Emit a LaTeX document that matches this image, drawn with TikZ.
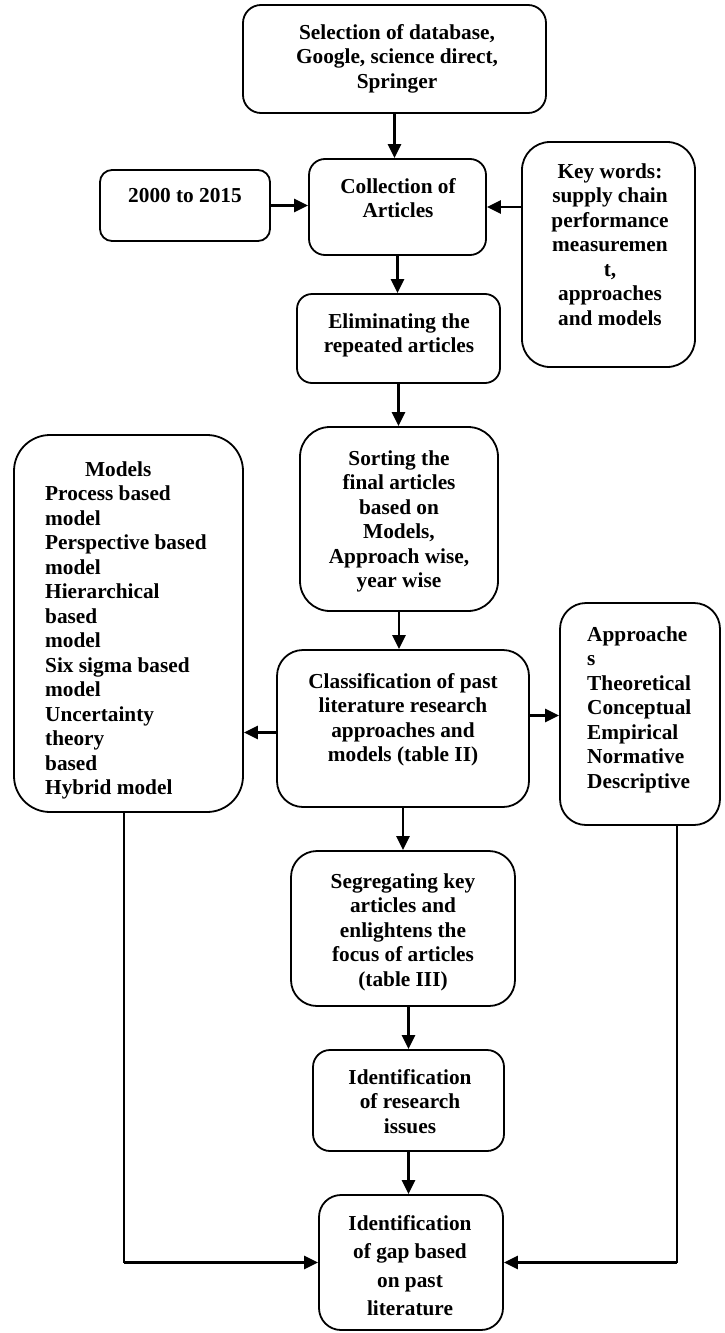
\documentclass[tikz,border=0pt]{standalone}
\usepackage{fontspec}
\setmainfont{Liberation Serif}
\usetikzlibrary{arrows.meta}
\begin{document}
\begin{tikzpicture}[x=1pt,y=-1pt,
  box/.style={draw, line width=1.8pt, inner sep=0pt},
  txt/.style={inner sep=0pt, align=center, anchor=north, font=\bfseries\fontsize{21.3}{24.5}\selectfont},
  ltxt/.style={txt, align=left, anchor=north west},
  arr/.style={line width=2.5pt, -{Triangle[length=14pt,width=13pt]}},
  link/.style={line width=2pt}]
\useasboundingbox (0,0) rectangle (724,1333);

% boxes
\node[box, minimum width=303pt, minimum height=108pt, rounded corners=18pt] (sel) at (394.5,59) {};
\node[box, minimum width=170pt, minimum height=71pt, rounded corners=12pt] (yr) at (185,205.5) {};
\node[box, minimum width=177pt, minimum height=96pt, rounded corners=16pt] (coll) at (397.5,207) {};
\node[box, minimum width=173pt, minimum height=225pt, rounded corners=28pt] (kw) at (608.5,254.5) {};
\node[box, minimum width=203pt, minimum height=89pt, rounded corners=15pt] (elim) at (398.5,338.5) {};
\node[box, minimum width=198pt, minimum height=184pt, rounded corners=30pt] (sort) at (399,519) {};
\node[box, minimum width=229pt, minimum height=377pt, rounded corners=36pt] (models) at (128.5,623.5) {};
\node[box, minimum width=252pt, minimum height=157pt, rounded corners=26pt] (cls) at (403,728.5) {};
\node[box, minimum width=160pt, minimum height=222pt, rounded corners=26pt] (appr) at (640,714) {};
\node[box, minimum width=224pt, minimum height=155pt, rounded corners=26pt] (seg) at (403,928.5) {};
\node[box, minimum width=191pt, minimum height=101pt, rounded corners=17pt] (idr) at (408.5,1100.5) {};
\node[box, minimum width=184pt, minimum height=135pt, rounded corners=22pt] (gap) at (411,1262.5) {};

% texts
\node[txt] (tsel) at (397,22) {\rule{0pt}{17pt}Selection of database,\\Google, science direct,\\Springer};
\node[txt] (tyr) at (185,185) {\rule{0pt}{17pt}2000 to 2015};
\node[txt] (tcoll) at (398,176) {\rule{0pt}{17pt}Collection of\\Articles};
\node[txt] (tkw) at (610,161) {\rule{0pt}{17pt}Key words:\\supply chain\\performance\\measuremen\\t,\\approaches\\and models};
\node[txt] (telim) at (399,311) {\rule{0pt}{17pt}Eliminating the\\repeated articles};
\node[txt] (tsort) at (399,448) {\rule{0pt}{17pt}Sorting the\\final articles\\based on\\Models,\\Approach wise,\\year wise};
\node[ltxt] (tmodels) at (45,459) {\rule{0pt}{17pt}\makebox[146pt][c]{Models}\\Process based\\model\\Perspective based\\model\\Hierarchical\\based\\model\\Six sigma based\\model\\Uncertainty\\theory\\based\\Hybrid model};
\node[txt] (tcls) at (403,671) {\rule{0pt}{17pt}Classification of past\\literature research\\approaches and\\models (table II)};
\node[ltxt] (tappr) at (587,624) {\rule{0pt}{17pt}Approache\\s\\Theoretical\\Conceptual\\Empirical\\Normative\\Descriptive};
\node[txt] (tseg) at (403,871) {\rule{0pt}{17pt}Segregating key\\articles and\\enlightens the\\focus of articles\\(table III)};
\node[txt] (tidr) at (410,1067) {\rule{0pt}{17pt}Identification\\of research\\issues};
\node[txt, font=\bfseries\fontsize{21.3}{28.5}\selectfont] (tgap) at (410,1213) {\rule{0pt}{17pt}Identification\\of gap based\\on past\\literature};

% connectors
\draw[arr] (sel.south) -- (sel.south |- coll.north);
\draw[arr] (yr.east) -- (yr.east -| coll.west);
\draw[arr] (coll.east -| kw.west) -- (coll.east);
\draw[arr] (coll.south) -- (coll.south |- elim.north);
\draw[arr] (elim.south) -- (elim.south |- sort.north);
\draw[arr] (sort.south) -- (sort.south |- cls.north);
\draw[arr] ([yshift=-4pt]cls.west) -- ([yshift=-4pt]cls.west -| models.east);
\draw[arr] ([yshift=13pt]cls.east) -- ([yshift=13pt]cls.east -| appr.west);
\draw[arr] (cls.south) -- (cls.south |- seg.north);
\draw[arr] (idr.north |- seg.south) -- (idr.north);
\draw[arr] (idr.south) -- (idr.south |- gap.north);
\coordinate (lc) at ([xshift=-5pt]models.south |- gap.west);
\draw[link] ([xshift=-5pt]models.south) -- (lc);
\draw[arr] (lc) -- (gap.west);
\coordinate (rc) at ([xshift=37pt]appr.south |- gap.east);
\draw[link] ([xshift=37pt]appr.south) -- (rc);
\draw[arr] (rc) -- (gap.east);
\end{tikzpicture}
\end{document}
